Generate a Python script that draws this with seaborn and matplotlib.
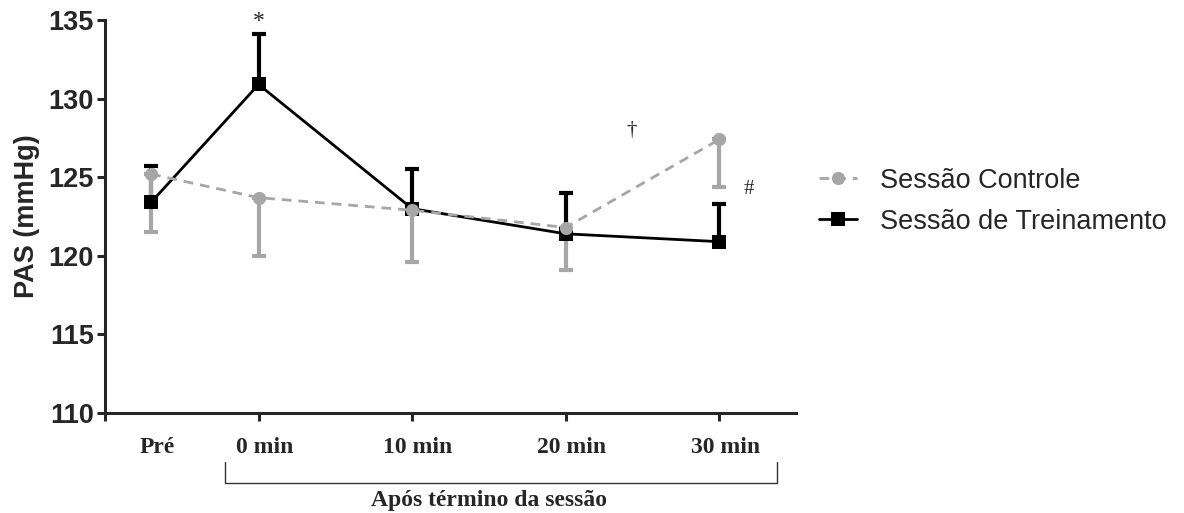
import numpy as np
import pandas as pd
import matplotlib
matplotlib.use("Agg")
import matplotlib.pyplot as plt
import matplotlib.transforms as mtransforms
from matplotlib.lines import Line2D
import seaborn as sns

# Data (PAS, mmHg)
tempos = [-7, 0, 10, 20, 30]
tick_labels = ["0 min", "10 min", "20 min", "30 min"]
controle_media = [125.2, 123.7, 122.9, 121.8, 127.4]
controle_erro = [3.7, 3.7, 3.3, 2.7, 3.0]
treino_media = [123.4, 130.9, 123.0, 121.4, 120.9]
treino_erro = [2.3, 3.2, 2.5, 2.6, 2.4]

CINZA = "#a6a6a6"
PRETO = "#000000"

df = pd.DataFrame({
    "tempo": tempos * 2,
    "pas": controle_media + treino_media,
    "sessao": ["Sessão Controle"] * 5 + ["Sessão de Treinamento"] * 5,
})

sns.set_style("ticks")
plt.rcParams["font.family"] = ["Liberation Sans", "DejaVu Sans"]

fig = plt.figure(figsize=(11.84, 5.13), dpi=100)
ax = fig.add_axes([0.0887, 0.1949, 0.6723 - 0.0887, 0.961 - 0.1949])

# one-sided error bars (training up, control down)
ax.errorbar(tempos, treino_media, yerr=[np.zeros(5), treino_erro], fmt="none",
            ecolor=PRETO, elinewidth=3, capsize=5, capthick=3, zorder=2)
ax.errorbar(tempos, controle_media, yerr=[controle_erro, np.zeros(5)], fmt="none",
            ecolor=CINZA, elinewidth=3, capsize=5, capthick=3, zorder=2)

sns.lineplot(data=df, x="tempo", y="pas", hue="sessao", style="sessao",
             hue_order=["Sessão de Treinamento", "Sessão Controle"],
             palette={"Sessão Controle": CINZA, "Sessão de Treinamento": PRETO},
             markers={"Sessão Controle": "o", "Sessão de Treinamento": "s"},
             dashes={"Sessão Controle": (3.5, 2.5), "Sessão de Treinamento": ""},
             markersize=9.5, markeredgewidth=0, linewidth=2, legend=False, ax=ax,
             zorder=3)

ax.set_xlim(-10, 35)
ax.set_ylim(110, 135)
ax.set_yticks(np.arange(110, 136, 5))
ax.set_xticks([-10, 0, 10, 20, 30], [""] + tick_labels)
ax.set_xticks([-7], ["Pré"], minor=True)

sns.despine(ax=ax)
for s in ["left", "bottom"]:
    ax.spines[s].set_linewidth(2.2)
ax.tick_params(axis="y", which="major", length=6, width=2.2, pad=2, labelsize=19.5)
ax.tick_params(axis="x", which="major", length=6, width=2.2, pad=11)
ax.tick_params(axis="x", which="minor", length=0, pad=17)
for lab in ax.get_yticklabels():
    lab.set_fontweight("bold")
shift = mtransforms.ScaledTranslation(6 / 100, 0, fig.dpi_scale_trans)
for lab in ax.get_xticklabels(which="both"):
    lab.set_fontfamily("Liberation Serif")
    lab.set_fontweight("bold")
    lab.set_fontsize(17)
    lab.set_transform(lab.get_transform() + shift)

ax.set_xlabel("")
ax.set_ylabel("PAS (mmHg)", fontsize=19.5, fontweight="bold", labelpad=6)

# bracket under the post-session labels
trans = mtransforms.blended_transform_factory(ax.transData, ax.transAxes)
ax.plot([-2.2, -2.2, 33.75, 33.75], [-0.125, -0.178, -0.178, -0.125],
         color="#333333", linewidth=1, transform=trans, clip_on=False)
ax.text(15, -0.222, "Após término da sessão", transform=trans, ha="center",
        va="center", fontsize=17, fontweight="bold", family="Liberation Serif")

# significance marks
ax.text(0, 134.9, "*", ha="center", va="center", fontsize=17,
        family="Liberation Serif", clip_on=False)
ax.text(24.3, 128.0, "†", ha="center", va="center", fontsize=15,
        family="Liberation Serif")
ax.text(31.9, 124.2, "#", ha="center", va="center", fontsize=15,
        family="Liberation Serif")

handles = [
    Line2D([], [], color=CINZA, linestyle=(0, (3.5, 2.5)), linewidth=2,
           marker="o", markersize=9.5, markeredgewidth=0),
    Line2D([], [], color=PRETO, linewidth=2, marker="s", markersize=9.5,
           markeredgewidth=0),
]
fig.legend(handles, ["Sessão Controle", "Sessão de Treinamento"],
           loc="center left", bbox_to_anchor=(0.692, 0.608), frameon=False,
           fontsize=19.5, handlelength=1.4, handletextpad=0.85,
           labelspacing=0.55, borderpad=0, borderaxespad=0)

fig.savefig("out.png", dpi=100)
